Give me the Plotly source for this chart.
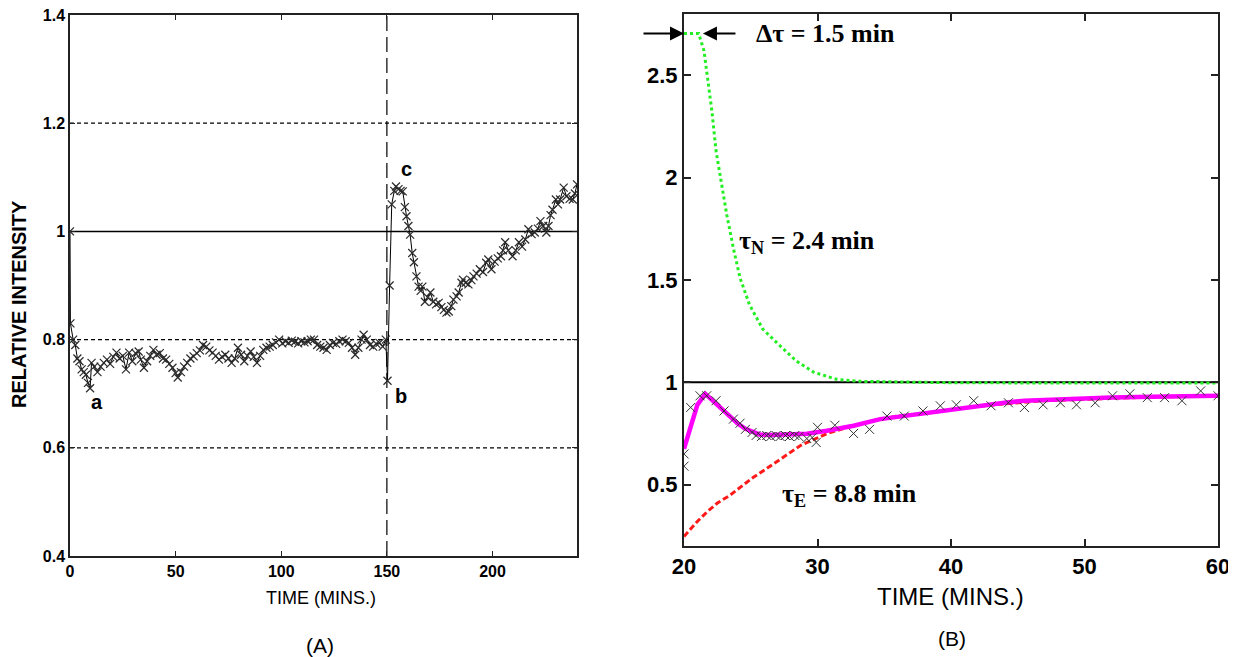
import plotly.graph_objects as go

# ---------------- Panel A data ----------------
time_a = [0, 0.2, 1.5, 2.5, 3.5, 4.5, 5.5, 6.5, 7.5, 8.5, 9.5, 10.2, 11.5, 13, 14.5, 16, 17.5, 19,
          20.5, 22, 23.5, 25, 26.5, 28, 29.5, 31, 32.5, 33.5, 35, 36.5, 38, 39.5, 41, 42.5, 44,
          45.5, 47, 48.5, 50, 51, 52.5, 54, 55.5, 57, 58.5, 60, 61.5, 63, 64.5, 66, 67.5, 69,
          70.5, 72, 73.5, 75, 76.5, 78, 79.5, 81, 82.5, 84, 85.5, 87, 88.5, 90, 91.5, 93, 94.5,
          96, 97.5, 99, 100.5, 102, 103.5, 105, 106.5, 108, 109.5, 111, 112.5, 114, 115.5, 117,
          118.5, 120, 121.5, 123, 124.5, 126, 127.5, 129, 130.5, 132, 133.5, 135, 136.5, 138,
          139, 140.5, 142, 143.5, 145, 146.5, 148, 149.5, 150.3, 151.3, 152.3, 153.5, 154.3,
          155.5, 156.5, 157.5, 158.5, 159.3, 160.2, 161, 162, 162.8, 164, 165, 166, 166.8, 168,
          169.3, 170.6, 172, 173.3, 174.5, 175.8, 177, 178.2, 179.3, 180.5, 181.5, 183, 184,
          185.3, 186, 187.3, 188.6, 190, 191, 192.5, 194, 195.5, 197, 198, 199.5, 201, 202.5,
          204, 205, 206, 207.5, 209.5, 211, 212.5, 214, 215.5, 217, 218.5, 220, 221.5, 222.7,
          224, 225.5, 226.5, 227.5, 228.4, 230, 231, 232, 233.7, 235, 236.5, 238, 239, 240]
intensity_a = [1.00, 0.83, 0.80, 0.79, 0.765, 0.76, 0.745, 0.74, 0.735, 0.72, 0.71, 0.757, 0.75,
               0.74, 0.75, 0.757, 0.763, 0.755, 0.768, 0.776, 0.765, 0.77, 0.745, 0.776, 0.76,
               0.775, 0.778, 0.763, 0.748, 0.76, 0.77, 0.781, 0.772, 0.775, 0.765, 0.763, 0.755,
               0.748, 0.738, 0.73, 0.74, 0.75, 0.757, 0.765, 0.769, 0.775, 0.78, 0.79, 0.787,
               0.78, 0.776, 0.77, 0.763, 0.768, 0.772, 0.765, 0.757, 0.765, 0.785, 0.772, 0.76,
               0.77, 0.778, 0.768, 0.757, 0.77, 0.781, 0.785, 0.787, 0.79, 0.795, 0.80, 0.793,
               0.797, 0.794, 0.798, 0.796, 0.793, 0.797, 0.795, 0.797, 0.80, 0.80, 0.79, 0.787,
               0.785, 0.781, 0.79, 0.794, 0.792, 0.797, 0.80, 0.797, 0.794, 0.785, 0.772, 0.785,
               0.80, 0.809, 0.80, 0.79, 0.787, 0.792, 0.794, 0.787, 0.80, 0.724, 0.90, 1.05,
               1.075, 1.083, 1.078, 1.075, 1.074, 1.045, 1.028, 1.01, 0.994, 0.96, 0.943, 0.917,
               0.898, 0.89, 0.898, 0.87, 0.878, 0.887, 0.87, 0.865, 0.868, 0.86, 0.855, 0.85,
               0.852, 0.862, 0.874, 0.88, 0.887, 0.905, 0.911, 0.905, 0.902, 0.91, 0.917, 0.922,
               0.93, 0.925, 0.942, 0.948, 0.93, 0.944, 0.95, 0.954, 0.965, 0.98, 0.965, 0.954,
               0.965, 0.98, 0.972, 0.985, 1.004, 0.995, 0.998, 1.005, 1.019, 1.01, 0.998, 1.01,
               1.03, 1.04, 1.059, 1.05, 1.059, 1.081, 1.065, 1.06, 1.059, 1.07, 1.087]
dotted_levels_a = [1.2, 0.8, 0.6]
solid_level_a = 1.0
step_time_a = 150
x_ticks_a = [0, 50, 100, 150, 200]
y_ticks_a = [0.4, 0.6, 0.8, 1.0, 1.2, 1.4]
point_labels = ["a", "b", "c"]

# ---------------- Panel B data ----------------
time_b = [20.0, 20.0, 20.5, 21.2, 21.7, 22.4, 23.0, 23.7, 24.2, 24.6, 25.1, 25.4, 25.8, 26.2,
          26.5, 26.9, 27.2, 27.6, 27.9, 28.3, 28.6, 29.2, 29.6, 29.9, 30.0, 31.3, 32.7, 33.9,
          35.2, 36.5, 37.9, 39.2, 40.4, 41.7, 43.0, 44.3, 45.5, 46.9, 48.2, 49.4, 50.8, 52.1,
          53.4, 54.7, 56.0, 57.3, 58.7, 60.0]
measured_b = [0.65, 0.59, 0.877, 0.934, 0.934, 0.91, 0.86, 0.82, 0.80, 0.77, 0.755, 0.74,
              0.735, 0.74, 0.735, 0.74, 0.735, 0.74, 0.735, 0.74, 0.735, 0.725, 0.73, 0.706,
              0.78, 0.79, 0.75, 0.77, 0.835, 0.835, 0.86, 0.885, 0.89, 0.91, 0.885, 0.90, 0.877,
              0.89, 0.90, 0.89, 0.90, 0.934, 0.944, 0.925, 0.925, 0.91, 0.958, 0.934]
fit_time = [20, 20.5, 21, 21.6, 22, 22.4, 23, 23.4, 24, 24.6, 25.2, 25.7, 26.5, 27.7, 29.2,
            30.7, 32.7, 34.7, 36.4, 38.4, 40, 42, 44, 45.5, 48, 50, 52, 55, 57, 60]
fit_value = [0.675, 0.79, 0.89, 0.944, 0.92, 0.895, 0.86, 0.837, 0.80, 0.773, 0.755, 0.744,
             0.742, 0.744, 0.749, 0.763, 0.788, 0.82, 0.835, 0.853, 0.87, 0.885, 0.90, 0.91,
             0.918, 0.922, 0.926, 0.93, 0.932, 0.934]
exc_time = [20, 21, 21.7, 22.5, 23.4, 24.3, 25.2, 26, 26.9, 27.8, 28.7, 29.7, 30.7, 32, 34, 36,
            38.7, 41, 44, 47, 50, 55, 60]
exc_value = [0.246, 0.32, 0.365, 0.41, 0.446, 0.49, 0.536, 0.57, 0.609, 0.65, 0.69, 0.72, 0.749,
             0.775, 0.81, 0.835, 0.853, 0.875, 0.895, 0.91, 0.918, 0.928, 0.933]
neg_time = [20, 20.5, 21.1, 21.5, 21.8, 22.1, 22.4, 22.8, 23.2, 23.7, 24.2, 24.9, 25.9, 27.2,
            28.4, 29.7, 31.4, 33, 35, 40, 45, 50, 55, 60]
neg_value = [2.705, 2.705, 2.705, 2.62, 2.47, 2.32, 2.13, 1.97, 1.82, 1.655, 1.51, 1.38, 1.26,
             1.178, 1.105, 1.05, 1.015, 1.005, 1.002, 0.998, 0.997, 0.997, 0.997, 0.997]
baseline_b = 1.0
delay_start, delay_end, delay_level = 20.0, 21.42, 2.705
x_ticks_b = [20, 30, 40, 50, 60]
y_ticks_b = [0.5, 1, 1.5, 2, 2.5]

# page body adds an 8px offset; the figure is sized so that the whole view is covered
OFF = 8
W, H = 1236 - OFF, 657 - OFF
NARROW = "Liberation Sans Narrow, Arial Narrow, Liberation Sans, Arial"
SANS = "Liberation Sans, Arial"
SERIF = "Liberation Serif, Times New Roman"


def px(x):
    return (x - OFF) / W


def py(y):
    return 1 - (y - OFF) / H


fig = go.Figure()

fig.add_trace(go.Scatter(
    x=time_a, y=intensity_a, mode="lines+markers", xaxis="x", yaxis="y",
    line=dict(color="black", width=1),
    marker=dict(symbol="x-thin", size=8, line=dict(color="#2a2a2a", width=1.2)),
    showlegend=False))

fig.add_trace(go.Scatter(
    x=exc_time, y=exc_value, mode="lines", xaxis="x2", yaxis="y2",
    line=dict(color="#ff1a1a", width=3, dash="6px,3px"), showlegend=False))
fig.add_trace(go.Scatter(
    x=neg_time, y=neg_value, mode="lines", xaxis="x2", yaxis="y2",
    line=dict(color="#22ee22", width=3, dash="3px,3px"), showlegend=False))
fig.add_trace(go.Scatter(
    x=fit_time, y=fit_value, mode="lines", xaxis="x2", yaxis="y2",
    line=dict(color="#ff00ff", width=4.5), showlegend=False))
fig.add_trace(go.Scatter(
    x=time_b, y=measured_b, mode="markers", xaxis="x2", yaxis="y2",
    marker=dict(symbol="x-thin", size=9, line=dict(color="#333333", width=1)),
    showlegend=False))

shapes = []
for lv in dotted_levels_a:
    shapes.append(dict(type="line", xref="x", yref="y", x0=0, x1=240, y0=lv, y1=lv,
                       line=dict(color="black", width=1.2, dash="4px,3px"), layer="below"))
shapes.append(dict(type="line", xref="x", yref="y", x0=0, x1=240, y0=solid_level_a,
                   y1=solid_level_a, line=dict(color="black", width=1.5), layer="below"))
shapes.append(dict(type="line", xref="x", yref="y", x0=step_time_a, x1=step_time_a, y0=0.4,
                   y1=1.4, line=dict(color="black", width=1.2, dash="15px,6px"), layer="below"))
shapes.append(dict(type="line", xref="x2", yref="y2", x0=20, x1=60, y0=baseline_b,
                   y1=baseline_b, line=dict(color="black", width=2), layer="below"))

annotations = []


def label(text, x, y, size, family=SANS, bold=False, angle=0):
    annotations.append(dict(text=text, x=px(x), y=py(y), xref="paper", yref="paper",
                            xanchor="center", yanchor="middle", showarrow=False,
                            textangle=angle,
                            font=dict(family=family, size=size, color="black",
                                      weight="bold" if bold else "normal")))


label("RELATIVE INTENSITY", 19, 304, 20, SANS, True, -90)
label("TIME (MINS.)", 321, 598, 18, NARROW)
label("(A)", 320, 645, 21, SANS)
label("TIME (MINS.)", 950, 596, 24, NARROW)
label("(B)", 952, 638, 21, SANS)
label(point_labels[0], 97, 402, 20, SANS, True)
label(point_labels[1], 401, 396, 20, SANS, True)
label(point_labels[2], 406, 169, 20, SANS, True)
label("Δτ = 1.5 min", 825, 33, 26, SERIF, True)
label("τ<sub>N</sub> = 2.4 min", 807, 242, 26, SERIF, True)
label("τ<sub>E</sub> = 8.8 min", 849, 495, 26, SERIF, True)

annotations.append(dict(x=delay_start, y=delay_level, xref="x2", yref="y2", text="",
                        showarrow=True, ax=-42, ay=0, arrowhead=2, arrowsize=1.4,
                        arrowwidth=2, arrowcolor="black", standoff=0))
annotations.append(dict(x=delay_end, y=delay_level, xref="x2", yref="y2", text="",
                        showarrow=True, ax=34, ay=0, arrowhead=2, arrowsize=1.4,
                        arrowwidth=2, arrowcolor="black", standoff=0))

common = dict(showline=True, linecolor="#222222", mirror="ticks", ticks="inside",
              showgrid=False, zeroline=False, tickcolor="#222222", automargin=False,
              ticklabeloverflow="allow")

fig.update_layout(
    width=W, height=H, margin=dict(l=0, r=0, t=0, b=0, pad=0, autoexpand=False),
    paper_bgcolor="white", plot_bgcolor="white",
    xaxis=dict(domain=[px(70), px(577)], range=[0, 240], anchor="y", tickvals=x_ticks_a,
               linewidth=1.5, ticklen=5, tickwidth=1.2,
               tickfont=dict(family=NARROW, size=16, color="black", weight="bold"), **common),
    yaxis=dict(domain=[py(556), py(15)], range=[0.4, 1.4], anchor="x", tickvals=y_ticks_a,
               linewidth=1.5, ticklen=5, tickwidth=1.2,
               tickfont=dict(family=NARROW, size=16, color="black", weight="bold"), **common),
    xaxis2=dict(domain=[px(684), px(1218)], range=[20, 60], anchor="y2", tickvals=x_ticks_b,
                linewidth=2, ticklen=7, tickwidth=1.5,
                tickfont=dict(family=NARROW, size=22, color="black", weight="bold"), **common),
    yaxis2=dict(domain=[py(546), py(14)], range=[0.2, 2.8], anchor="x2", tickvals=y_ticks_b,
                linewidth=2, ticklen=7, tickwidth=1.5,
                tickfont=dict(family=NARROW, size=22, color="black", weight="bold"), **common),
    shapes=shapes, annotations=annotations,
)

fig.write_html("out.html")
